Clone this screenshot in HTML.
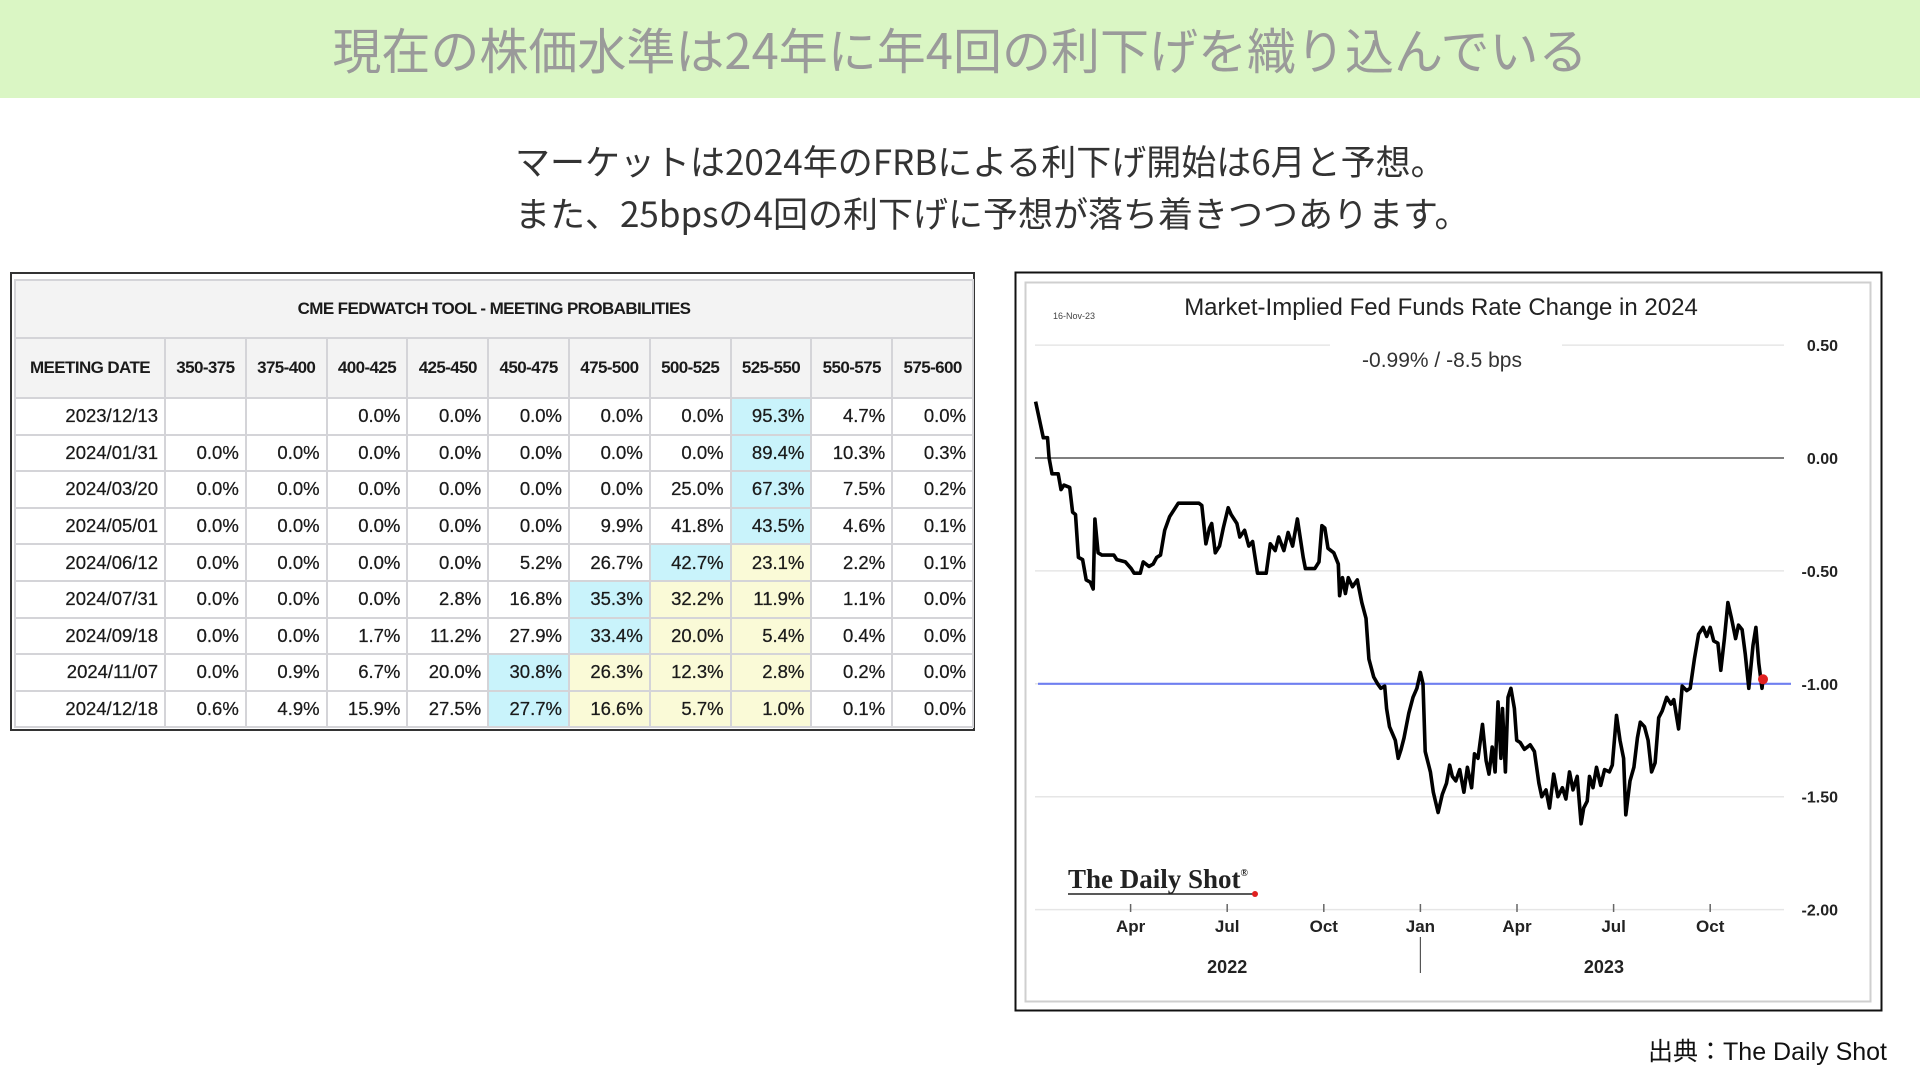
<!DOCTYPE html>
<html><head><meta charset="utf-8">
<style>
*{margin:0;padding:0;box-sizing:border-box}
body{width:1920px;height:1080px;background:#fff;position:relative;overflow:hidden;font-family:"Liberation Sans","Noto Sans CJK JP",sans-serif}
#title-bar{position:absolute;left:0;top:0;width:1920px;height:98px;background:#daf6c4;color:#9a9a9a;font-size:49px;text-align:center;line-height:98px;font-family:"Noto Sans CJK JP",sans-serif}
.sub{position:absolute;left:515px;font-size:35px;color:#333;font-family:"Noto Sans CJK JP",sans-serif;white-space:nowrap}
#table-wrap{position:absolute;left:10px;top:272px;width:965px;height:459px;border:2px solid #333;padding:5px 2px 2px 2px;background:#fff}
table{border-collapse:collapse;width:958px;table-layout:fixed;font-family:"Liberation Sans",sans-serif}
td,th{border:2px solid #d4d4d8;font-size:18.5px;color:#1a1a1a}
th{font-weight:bold;font-size:17px;background:#f3f3f3;height:60px;text-align:center;letter-spacing:-0.6px}
td{height:36.6px;text-align:right;padding-right:6px;-webkit-text-stroke:0.25px #1a1a1a}
.c{background:#c9f3fb}.y{background:#fafad7}
#source{position:absolute;right:33px;top:1032px;font-size:25px;color:#111;font-family:"Liberation Sans","Noto Sans CJK JP",sans-serif}
svg{position:absolute;left:0;top:0}
</style></head><body>
<div id="title-bar">現在の株価水準は24年に年4回の利下げを織り込んでいる</div>
<div class="sub" style="top:135px">マーケットは2024年のFRBによる利下げ開始は6月と予想。</div>
<div class="sub" style="top:187px">また、25bpsの4回の利下げに予想が落ち着きつつあります。</div>

<div id="table-wrap">
<table>
<colgroup><col style="width:150px"><col span="10" style="width:80.8px"></colgroup>
<tr><th colspan="11" style="height:58px;font-size:17px">CME FEDWATCH TOOL - MEETING PROBABILITIES</th></tr>
<tr><th>MEETING DATE</th><th>350-375</th><th>375-400</th><th>400-425</th><th>425-450</th><th>450-475</th><th>475-500</th><th>500-525</th><th>525-550</th><th>550-575</th><th>575-600</th></tr>
<tr><td>2023/12/13</td><td></td><td></td><td>0.0%</td><td>0.0%</td><td>0.0%</td><td>0.0%</td><td>0.0%</td><td class="c">95.3%</td><td>4.7%</td><td>0.0%</td></tr>
<tr><td>2024/01/31</td><td>0.0%</td><td>0.0%</td><td>0.0%</td><td>0.0%</td><td>0.0%</td><td>0.0%</td><td>0.0%</td><td class="c">89.4%</td><td>10.3%</td><td>0.3%</td></tr>
<tr><td>2024/03/20</td><td>0.0%</td><td>0.0%</td><td>0.0%</td><td>0.0%</td><td>0.0%</td><td>0.0%</td><td>25.0%</td><td class="c">67.3%</td><td>7.5%</td><td>0.2%</td></tr>
<tr><td>2024/05/01</td><td>0.0%</td><td>0.0%</td><td>0.0%</td><td>0.0%</td><td>0.0%</td><td>9.9%</td><td>41.8%</td><td class="c">43.5%</td><td>4.6%</td><td>0.1%</td></tr>
<tr><td>2024/06/12</td><td>0.0%</td><td>0.0%</td><td>0.0%</td><td>0.0%</td><td>5.2%</td><td>26.7%</td><td class="c">42.7%</td><td class="y">23.1%</td><td>2.2%</td><td>0.1%</td></tr>
<tr><td>2024/07/31</td><td>0.0%</td><td>0.0%</td><td>0.0%</td><td>2.8%</td><td>16.8%</td><td class="c">35.3%</td><td class="y">32.2%</td><td class="y">11.9%</td><td>1.1%</td><td>0.0%</td></tr>
<tr><td>2024/09/18</td><td>0.0%</td><td>0.0%</td><td>1.7%</td><td>11.2%</td><td>27.9%</td><td class="c">33.4%</td><td class="y">20.0%</td><td class="y">5.4%</td><td>0.4%</td><td>0.0%</td></tr>
<tr><td>2024/11/07</td><td>0.0%</td><td>0.9%</td><td>6.7%</td><td>20.0%</td><td class="c">30.8%</td><td class="y">26.3%</td><td class="y">12.3%</td><td class="y">2.8%</td><td>0.2%</td><td>0.0%</td></tr>
<tr><td>2024/12/18</td><td>0.6%</td><td>4.9%</td><td>15.9%</td><td>27.5%</td><td class="c">27.7%</td><td class="y">16.6%</td><td class="y">5.7%</td><td class="y">1.0%</td><td>0.1%</td><td>0.0%</td></tr>
</table>
</div>

<svg id="chart" width="1920" height="1080">
<rect x="1015.5" y="272.5" width="866" height="738" fill="#fff" stroke="#111" stroke-width="2"/>
<rect x="1025.5" y="282.5" width="845" height="719" fill="none" stroke="#cfcfcf" stroke-width="2"/>
<text x="1053" y="319" font-size="9" fill="#444">16-Nov-23</text>
<text x="1441" y="315" font-size="24" fill="#222" text-anchor="middle">Market-Implied Fed Funds Rate Change in 2024</text>
<text x="1442" y="367" font-size="21" fill="#333" text-anchor="middle">-0.99%  /  -8.5 bps</text>
<g id="grid"></g>
<g id="xaxis"></g>
<path id="series" fill="none" stroke="#000" stroke-width="3.6" stroke-linejoin="round"/>
<circle id="lastdot" r="5" fill="#e02020"/>
<text x="1068" y="888" font-size="27" font-family="Liberation Serif,serif" font-weight="bold" fill="#222">The Daily Shot<tspan font-size="10" dy="-12">®</tspan></text>
<line x1="1068" y1="894" x2="1255" y2="894" stroke="#222" stroke-width="1.5"/>
<circle cx="1255" cy="894" r="3" fill="#e02020"/>
</svg>
<div id="source">出典：The Daily Shot</div>

<script>
const months=[0.05,0.20,0.29,0.42,0.47,0.56,0.75,0.84,0.93,1.11,1.20,1.29,1.38,1.51,1.62,1.75,1.84,1.89,1.99,2.11,2.48,2.57,2.84,3.02,3.11,3.30,3.39,3.57,3.70,3.81,3.93,4.06,4.21,4.39,4.48,5.12,5.21,5.34,5.45,5.52,5.63,5.76,5.88,6.03,6.12,6.30,6.39,6.54,6.67,6.79,6.94,7.21,7.34,7.49,7.60,7.76,7.89,8.03,8.18,8.36,8.43,8.72,8.85,8.94,9.03,9.13,9.31,9.45,9.49,9.58,9.67,9.76,9.89,10.04,10.18,10.31,10.40,10.55,10.67,10.77,10.89,10.95,11.04,11.13,11.22,11.31,11.40,11.49,11.64,11.77,11.89,12.00,12.08,12.15,12.31,12.40,12.55,12.68,12.81,12.91,12.99,13.10,13.22,13.35,13.46,13.59,13.68,13.79,13.93,14.04,14.13,14.23,14.32,14.41,14.50,14.55,14.64,14.72,14.81,14.92,14.99,15.10,15.23,15.41,15.54,15.68,15.77,15.90,16.01,16.14,16.27,16.41,16.52,16.63,16.74,16.87,16.99,17.07,17.18,17.25,17.36,17.47,17.60,17.72,17.87,17.96,18.09,18.20,18.31,18.38,18.51,18.63,18.74,18.83,18.96,19.07,19.18,19.29,19.40,19.51,19.65,19.78,19.87,20.02,20.13,20.27,20.38,20.51,20.64,20.78,20.89,21.00,21.11,21.24,21.33,21.44,21.55,21.66,21.79,21.88,21.99,22.09,22.20,22.33,22.42,22.51,22.61,22.64];
const values=[0.25,0.15,0.09,0.09,0.00,-0.07,-0.07,-0.14,-0.12,-0.13,-0.24,-0.25,-0.44,-0.45,-0.54,-0.55,-0.58,-0.27,-0.42,-0.43,-0.43,-0.45,-0.46,-0.49,-0.51,-0.51,-0.46,-0.48,-0.47,-0.44,-0.43,-0.32,-0.26,-0.22,-0.20,-0.20,-0.21,-0.38,-0.31,-0.29,-0.42,-0.39,-0.31,-0.22,-0.25,-0.29,-0.35,-0.32,-0.39,-0.37,-0.51,-0.51,-0.38,-0.41,-0.35,-0.41,-0.33,-0.39,-0.27,-0.44,-0.49,-0.49,-0.46,-0.30,-0.31,-0.40,-0.42,-0.47,-0.61,-0.53,-0.60,-0.53,-0.57,-0.54,-0.64,-0.71,-0.89,-0.97,-1.00,-1.02,-1.01,-1.11,-1.19,-1.22,-1.25,-1.33,-1.29,-1.24,-1.13,-1.06,-1.02,-0.95,-1.00,-1.30,-1.39,-1.48,-1.57,-1.49,-1.44,-1.36,-1.41,-1.43,-1.38,-1.48,-1.37,-1.46,-1.31,-1.33,-1.18,-1.34,-1.40,-1.28,-1.39,-1.08,-1.33,-1.11,-1.39,-1.06,-1.02,-1.11,-1.25,-1.26,-1.29,-1.27,-1.30,-1.44,-1.50,-1.47,-1.55,-1.40,-1.50,-1.46,-1.51,-1.39,-1.47,-1.41,-1.62,-1.55,-1.52,-1.41,-1.46,-1.37,-1.45,-1.38,-1.39,-1.36,-1.14,-1.25,-1.33,-1.58,-1.43,-1.37,-1.24,-1.17,-1.19,-1.25,-1.39,-1.35,-1.15,-1.12,-1.06,-1.09,-1.07,-1.20,-1.01,-1.03,-1.02,-0.89,-0.78,-0.75,-0.79,-0.75,-0.81,-0.82,-0.94,-0.80,-0.64,-0.71,-0.80,-0.74,-0.76,-0.87,-1.02,-0.83,-0.75,-0.91,-1.02,-0.98];
const yTicks=[0.5,0,-0.5,-1,-1.5,-2];
const yTickLabels=["0.50","0.00","-0.50","-1.00","-1.50","-2.00"];
const xTickMonths=[3,6,9,12,15,18,21];
const xTickLabels=["Apr","Jul","Oct","Jan","Apr","Jul","Oct"];
const years=["2022","2023"];
const yearCenters=[6,17.7];
const targetLevel=-1.0;

const NS="http://www.w3.org/2000/svg";
function xs(m){return 1034+m*32.2;}
function ys(v){return 458-v*225.8;}
function mk(tag,attrs,parent){const e=document.createElementNS(NS,tag);for(const k in attrs)e.setAttribute(k,attrs[k]);parent.appendChild(e);return e;}
const grid=document.getElementById('grid');
yTicks.forEach((t,i)=>{
  const y=ys(t);
  if(t===0.5){
    const a=mk('line',{x1:1035,x2:1330,y1:y,y2:y,stroke:'#e6e6e6','stroke-width':1.5},grid);
    
    
    const b=mk('line',{x1:1562,x2:1784,y1:y,y2:y,stroke:'#e6e6e6','stroke-width':1.5},grid);
    
    
  } else {
    const l=mk('line',{x1:1035,x2:1784,y1:y,y2:y,stroke:t===0?'#555':'#e6e6e6','stroke-width':1.5},grid);
    
    
  }
  const tx=mk('text',{x:1838,y:y+6,'font-size':16,'font-weight':'bold',fill:'#222','text-anchor':'end'},grid);
  tx.textContent=yTickLabels[i];
  
  
});
const tl=mk('line',{x1:1038,x2:1791,y1:ys(targetLevel),y2:ys(targetLevel),stroke:'#6f7ff0','stroke-width':2.2},grid);


const xa=document.getElementById('xaxis');
xTickMonths.forEach((m,i)=>{
  const x=xs(m);
  const t=mk('line',{x1:x,x2:x,y1:904,y2:912,stroke:'#666','stroke-width':1.5},xa);
  
  
  const lb=mk('text',{x:x,y:932,'font-size':17,'font-weight':'bold',fill:'#222','text-anchor':'middle'},xa);
  lb.textContent=xTickLabels[i];
  
  
});
years.forEach((yr,i)=>{
  const lb=mk('text',{x:xs(yearCenters[i]),y:973,'font-size':18,'font-weight':'bold',fill:'#222','text-anchor':'middle'},xa);
  lb.textContent=yr;
  
  
});
const dv=mk('line',{x1:xs(12),x2:xs(12),y1:937,y2:973,stroke:'#555','stroke-width':1.2},xa);


let d='';
months.forEach((m,i)=>{d+=(i?'L':'M')+xs(m).toFixed(1)+' '+ys(values[i]).toFixed(1);});
document.getElementById('series').setAttribute('d',d);
const dot=document.getElementById('lastdot');
dot.setAttribute('cx',xs(months[months.length-1]));
dot.setAttribute('cy',ys(values[values.length-1]));
</script>
</body></html>
